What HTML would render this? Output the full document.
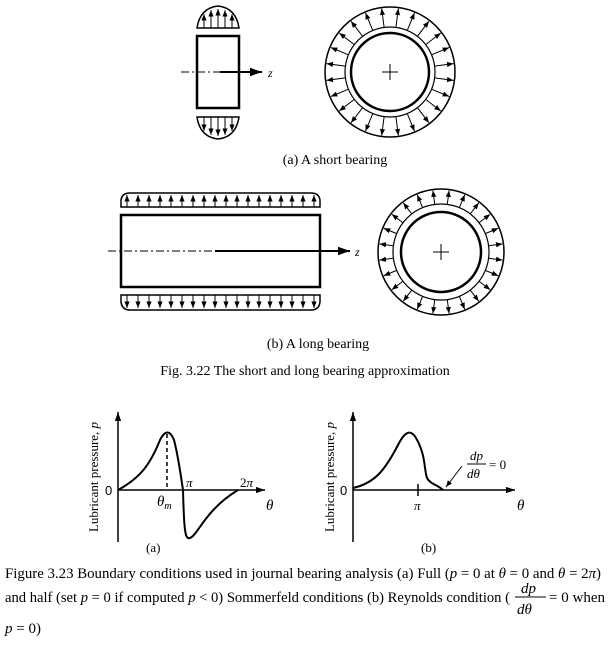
<!DOCTYPE html>
<html><head><meta charset="utf-8"><style>
html,body{margin:0;padding:0;background:#fff;}
svg{display:block;font-family:"Liberation Serif",serif;}
</style></head><body>
<svg id="s" width="608" height="645" viewBox="0 0 608 645" xmlns="http://www.w3.org/2000/svg">
<defs>
<marker id="ah" viewBox="0 0 10 10" refX="10" refY="5" markerWidth="6.5" markerHeight="6.5" orient="auto"><path d="M0,1 L10,5 L0,9 z" fill="#000"/></marker>
<marker id="ab" viewBox="0 0 10 10" refX="10" refY="5" markerWidth="8" markerHeight="6" orient="auto"><path d="M0,1.5 L10,5 L0,8.5 z" fill="#000"/></marker>
</defs>
<g stroke="#000" fill="none">
<rect x="197" y="36" width="42" height="72" stroke-width="2.5"/>
<path d="M197,28 Q200,8 218,6 Q236,8 239,28 Z" stroke-width="1.5"/>
<path d="M197,117 Q200,137 218,139 Q236,137 239,117 Z" stroke-width="1.5"/>
<line x1="181" y1="72" x2="220" y2="72" stroke-width="1" stroke-dasharray="8,3,2,3"/>
<line x1="220" y1="72" x2="262" y2="72" stroke-width="2" marker-end="url(#ab)"/>
<rect x="121" y="215" width="199" height="72" stroke-width="2.5"/>
<path d="M121,207 L121,200 Q122,193 130,193 L311,193 Q319,193 320,200 L320,207 Z" stroke-width="1.5"/>
<path d="M121,295 L121,302 Q122,310 130,310 L311,310 Q319,310 320,302 L320,295 Z" stroke-width="1.5"/>
<line x1="108" y1="251" x2="215" y2="251" stroke-width="1" stroke-dasharray="8,3,2,3"/>
<line x1="215" y1="251" x2="350" y2="251" stroke-width="2" marker-end="url(#ab)"/>
<g id="arr" stroke-width="1"></g>
<circle cx="390" cy="72" r="65" stroke-width="1.5"/>
<circle cx="390" cy="72" r="45" stroke-width="1.2"/>
<circle cx="390" cy="72" r="39" stroke-width="2.5"/>
<path d="M382,72 H398 M390,64 V80" stroke-width="1"/>
<circle cx="441" cy="252" r="63" stroke-width="1.5"/>
<circle cx="441" cy="252" r="48" stroke-width="1.2"/>
<circle cx="441" cy="252" r="40" stroke-width="2.5"/>
<path d="M433,252 H449 M441,244 V260" stroke-width="1"/>
<line x1="118" y1="542" x2="118" y2="412" stroke-width="1.5" marker-end="url(#ab)"/>
<line x1="118" y1="490" x2="265" y2="490" stroke-width="1.5" marker-end="url(#ab)"/>
<path d="M118,490 C140,478 150,465 160,440 C165,430 170,430 174,440 C178,455 180,470 183,490 C184,530 185,540 190,538 C198,535 205,510 238,490" stroke-width="2"/>
<line x1="167" y1="434" x2="167" y2="490" stroke-width="1.5" stroke-dasharray="4,3"/>
<line x1="353" y1="542" x2="353" y2="412" stroke-width="1.5" marker-end="url(#ab)"/>
<line x1="353" y1="490" x2="515" y2="490" stroke-width="1.5" marker-end="url(#ab)"/>
<path d="M353,488 C375,483 385,470 398,445 C404,433 410,428 416,438 C426,455 424,470 427,478 C430,484 438,485 443,490" stroke-width="2"/>
<line x1="418" y1="484" x2="418" y2="496" stroke-width="1.5"/>
<line x1="462" y1="466" x2="446" y2="487" stroke-width="1" marker-end="url(#ah)"/>
<line x1="467" y1="464" x2="486" y2="464" stroke-width="1"/>
</g>
<g fill="#000" font-size="13">
<text x="268" y="77" font-style="italic" font-size="12">z</text>
<text x="355" y="256" font-style="italic" font-size="12">z</text>
<text x="335" y="164" text-anchor="middle" font-size="14">(a) A short bearing</text>
<text x="318" y="348" text-anchor="middle" font-size="14">(b) A long bearing</text>
<text x="305" y="375" text-anchor="middle" font-size="14">Fig. 3.22 The short and long bearing approximation</text>
<text x="105" y="495" font-family="Liberation Sans, sans-serif" font-size="13">0</text>
<text x="340" y="495" font-family="Liberation Sans, sans-serif" font-size="13">0</text>
<text transform="translate(98,477) rotate(-90)" text-anchor="middle" font-size="13">Lubricant pressure, <tspan font-style="italic">p</tspan></text>
<text transform="translate(334,477) rotate(-90)" text-anchor="middle" font-size="13">Lubricant pressure, <tspan font-style="italic">p</tspan></text>
<text x="186" y="487" font-style="italic">π</text>
<text x="240" y="487">2<tspan font-style="italic">π</tspan></text>
<text x="157" y="506" font-style="italic" font-size="15">θ<tspan font-size="10" dy="3">m</tspan></text>
<text x="266" y="510" font-style="italic" font-size="15">θ</text>
<text x="146" y="552">(a)</text>
<text x="414" y="510" font-style="italic">π</text>
<text x="517" y="510" font-style="italic" font-size="15">θ</text>
<text x="421" y="552">(b)</text>
<text x="470" y="460" font-style="italic">dp</text>
<text x="467" y="478" font-style="italic">dθ</text>
<text x="489" y="469">= 0</text>
<text x="5" y="578" font-size="15" textLength="596" lengthAdjust="spacingAndGlyphs">Figure 3.23 Boundary conditions used in journal bearing analysis (a) Full (<tspan font-style="italic">p</tspan> = 0 at <tspan font-style="italic">θ</tspan> = 0 and <tspan font-style="italic">θ</tspan> = 2<tspan font-style="italic">π</tspan>)</text>
<text x="5" y="602" font-size="15" textLength="505" lengthAdjust="spacingAndGlyphs">and half (set <tspan font-style="italic">p</tspan> = 0 if computed <tspan font-style="italic">p</tspan> &lt; 0) Sommerfeld conditions (b) Reynolds condition (</text>
<text x="521" y="593" font-style="italic" font-size="15">dp</text>
<line x1="515" y1="597" x2="546" y2="597" stroke="#000" stroke-width="1"/>
<text x="517" y="614" font-style="italic" font-size="15">dθ</text>
<text x="549" y="602" font-size="15" textLength="56" lengthAdjust="spacingAndGlyphs">= 0  when</text>
<text x="5" y="633" font-size="15"><tspan font-style="italic">p</tspan> = 0)</text>
</g>
</svg>
<script>
var g=document.getElementById('arr'),NS="http://www.w3.org/2000/svg";
function ln(x1,y1,x2,y2){var l=document.createElementNS(NS,'line');l.setAttribute('x1',x1);l.setAttribute('y1',y1);l.setAttribute('x2',x2);l.setAttribute('y2',y2);l.setAttribute('marker-end','url(#ah)');g.appendChild(l);}
[204,211,218,225,232].forEach(function(x){var h=Math.sqrt(1-Math.pow((x-218)/21,2))*20;ln(x,28,x,28-h+1);ln(x,117,x,117+h-1);});
for(var i=0;i<18;i++){var x=127+i*11;ln(x,207,x,195);ln(x,295,x,308);}
function ring(cx,cy,r1,r2,n){for(var i=0;i<n;i++){var a=(i+0.5)*2*Math.PI/n;ln(cx+r1*Math.cos(a),cy+r1*Math.sin(a),cx+r2*Math.cos(a),cy+r2*Math.sin(a));}}
ring(390,72,45,64,24);ring(441,252,48,62,24);
</script>
</body></html>
